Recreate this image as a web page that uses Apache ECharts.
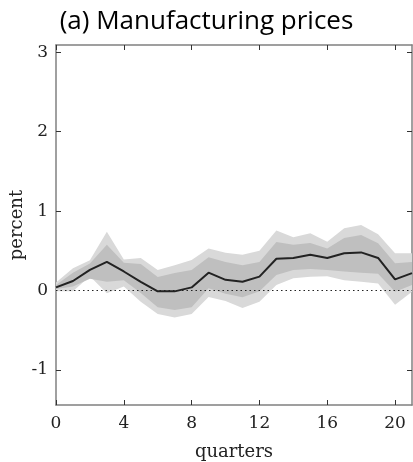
<!DOCTYPE html>
<html>
<head>
<meta charset="utf-8">
<script src="https://cdn.jsdelivr.net/npm/echarts@6/dist/echarts.min.js"></script>
<style>html,body{margin:0;padding:0;background:#fff}#c{width:413px;height:462px}</style>
</head>
<body>
<div id="c"></div>
<script>
var quarters = [0,1,2,3,4,5,6,7,8,9,10,11,12,13,14,15,16,17,18,19,20,21];
var median   = [0.04,0.12,0.26,0.36,0.24,0.11,-0.01,-0.01,0.04,0.225,0.135,0.11,0.175,0.40,0.41,0.45,0.41,0.47,0.48,0.41,0.14,0.22];
var innerUp  = [0.07,0.225,0.34,0.575,0.35,0.335,0.17,0.22,0.26,0.42,0.36,0.32,0.36,0.61,0.575,0.60,0.53,0.66,0.70,0.595,0.345,0.36];
var innerLo  = [0.02,0.05,0.15,0.11,0.13,-0.03,-0.21,-0.245,-0.21,0.03,-0.04,-0.085,-0.01,0.195,0.26,0.27,0.26,0.24,0.225,0.21,-0.015,0.07];
var outerUp  = [0.10,0.28,0.38,0.74,0.39,0.41,0.26,0.32,0.385,0.53,0.475,0.45,0.50,0.755,0.67,0.72,0.615,0.785,0.825,0.71,0.47,0.47];
var outerLo  = [-0.01,-0.01,0.18,-0.035,0.05,-0.14,-0.295,-0.34,-0.295,-0.08,-0.13,-0.22,-0.14,0.07,0.155,0.175,0.18,0.13,0.11,0.09,-0.18,-0.015];
var yTicks = [-1,0,1,2,3];
var xTicks = [0,4,8,12,16,20];

function pairs(a){ return quarters.map(function(q,i){ return [q,a[i]]; }); }
function bandData(u,l){ return quarters.map(function(q,i){ return [q,l[i],u[i]]; }); }

function bandRender(color){
  return function(params, api){
    if (params.dataIndex !== 0) return;
    var up = [], lo = [];
    for (var i = 0; i < quarters.length; i++) {
      up.push(api.coord([api.value(0, i), api.value(2, i)]));
      lo.push(api.coord([api.value(0, i), api.value(1, i)]));
    }
    var pts = up.concat(lo.reverse());
    return {type:'polygon', shape:{points:pts}, style:{fill:color, stroke:null}, silent:true};
  };
}

var axisGray = '#808080';
var serif = '"DejaVu Serif", "Liberation Serif", serif';
var chart = echarts.init(document.getElementById('c'));
chart.setOption({
  animation:false,
  backgroundColor:'#fff',
  title:{text:'(a) Manufacturing prices', left:'center', top:4,
    textStyle:{fontFamily:'"Open Sans", Lato, sans-serif', fontWeight:'normal', fontSize:26, color:'#000'}},
  grid:{left:56, right:1, top:45, bottom:57, containLabel:false, outerBoundsMode:'none'},
  xAxis:[{type:'value', min:0, max:21, position:'bottom',
      name:'quarters', nameLocation:'middle', nameGap:38, nameMoveOverlap:false,
      nameTextStyle:{fontFamily:serif, fontSize:18, color:'#222'},
      axisLine:{show:true, onZero:false, lineStyle:{color:axisGray, width:1.5}},
      axisTick:{show:true, inside:true, length:5, customValues:xTicks, lineStyle:{color:'#333'}},
      axisLabel:{customValues:xTicks, margin:10, fontFamily:serif, fontSize:17, color:'#222'},
      splitLine:{show:false}},
    {type:'value', min:0, max:21, position:'top',
      axisLine:{show:true, onZero:false, lineStyle:{color:axisGray, width:1.5}},
      axisTick:{show:true, inside:true, length:5, customValues:xTicks, lineStyle:{color:'#333'}},
      axisLabel:{show:false}, splitLine:{show:false}}],
  yAxis:[{type:'value', min:-1.44, max:3.09, position:'left',
      name:'percent', nameLocation:'middle', nameGap:30, nameMoveOverlap:false,
      nameTextStyle:{fontFamily:serif, fontSize:18, color:'#222'},
      axisLine:{show:true, onZero:false, lineStyle:{color:axisGray, width:1.5}},
      axisTick:{show:true, inside:true, length:5, customValues:yTicks, lineStyle:{color:'#333'}},
      axisLabel:{customValues:yTicks, margin:8, fontFamily:serif, fontSize:17, color:'#222'},
      splitLine:{show:false}},
    {type:'value', min:-1.44, max:3.09, position:'right',
      axisLine:{show:true, onZero:false, lineStyle:{color:axisGray, width:1.5}},
      axisTick:{show:true, inside:true, length:5, customValues:yTicks, lineStyle:{color:'#333'}},
      axisLabel:{show:false}, splitLine:{show:false}}],
  series:[
    {type:'custom', data:bandData(outerUp,outerLo), renderItem:bandRender('#d9d9d9'),
      encode:{x:0, y:[1,2]}, clip:true, silent:true, z:1},
    {type:'custom', data:bandData(innerUp,innerLo), renderItem:bandRender('#bfbfbf'),
      encode:{x:0, y:[1,2]}, clip:true, silent:true, z:2},
    {type:'line', data:pairs(median), symbol:'none', lineStyle:{color:'#222', width:2}, z:4,
      markLine:{silent:true, symbol:'none', label:{show:false},
        lineStyle:{type:[1.5,3], color:'#222', width:1.2}, data:[{yAxis:0}]}}
  ]
});
</script>
</body>
</html>
